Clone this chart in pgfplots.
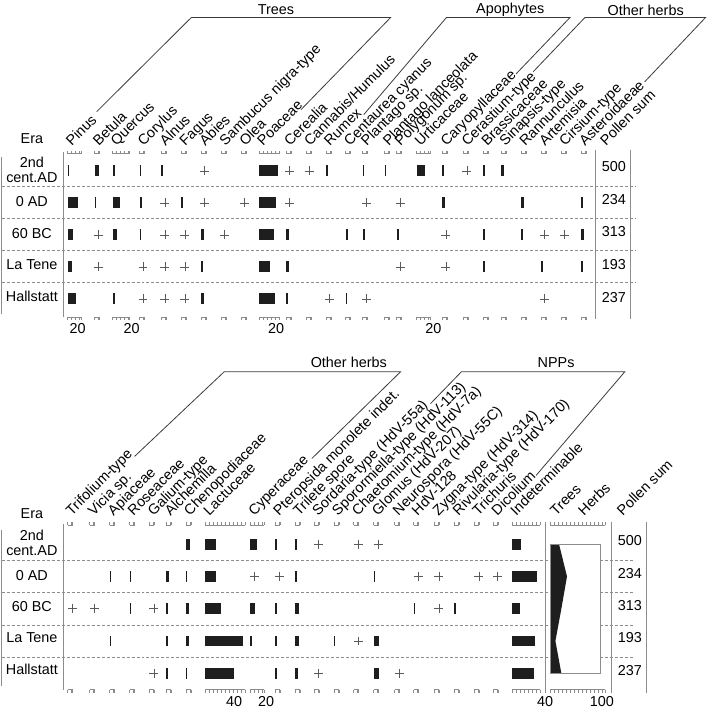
\documentclass[border=0pt]{standalone}
\usepackage{fontspec}
\setmainfont{Liberation Sans}
\usepackage{pgfplots}
\usepackage{pgfplotstable}
\pgfplotsset{compat=1.18}

\definecolor{rulegray}{HTML}{8C8C8C}
\definecolor{bargray}{HTML}{1E1E1E}
\definecolor{plusgray}{HTML}{5A5A5A}
\definecolor{headgray}{HTML}{3A3A3A}

\newcommand{\lbl}{\fontsize{14.5}{17}\selectfont}
\def\pxp{0.8}% px per percent, same on every taxon scale

% rows: 1 = 2nd cent.AD, 2 = 0 AD, 3 = 60 BC, 4 = La Tene, 5 = Hallstatt
% c = left edge of the taxon column (px), v = percentage
\pgfplotstableread{
c r v
68 1 2
68 2 12.5
68 3 6
68 4 5
68 5 10
95 1 6
95 2 2
113 1 3
113 2 9
113 3 5
113 5 3
140 1 2
140 2 2.5
140 3 2
162 1 2
182 2 2
202 3 4
202 4 2
202 5 4
260 1 24
260 2 21
260 3 19
260 4 14
260 5 20
287 3 4
287 4 4
287 5 3
327 1 2.5
347 3 3
347 5 2
364 1 2
364 3 3
386 1 2
398 3 2.5
418 1 10
444 1 2
444 2 3
485 1 2
485 3 2.5
485 4 2.5
503 1 3
523 2 4
523 3 2.5
543 4 2
583 2 2
583 3 4
583 4 3
}\topbars

% taxa present below 1 % (drawn as +)
\pgfplotstableread{
c r
95 3
95 4
140 4
140 5
162 2
162 3
162 4
162 5
182 3
182 4
182 5
202 1
202 2
222 3
242 2
287 1
287 2
307 1
327 5
364 2
364 5
398 2
398 4
444 3
444 4
465 1
543 3
543 5
563 3
}\topplus

\pgfplotstableread{
c r v
110 2 2
110 4 2
130 2 2
130 3 2
167 2 3
167 3 2
167 4 2
167 5 2
186.5 1 5
186.5 2 2
186.5 3 4
186.5 4 4
186.5 5 2
206 1 14
206 2 14
206 3 20
206 4 47
206 5 36
251 1 9
251 3 6
251 4 2
276 1 2
276 3 3
276 4 2
276 5 2
296 1 2
296 2 2
296 3 5
296 4 5
296 5 4
335 4 2
375 2 2
375 4 7
375 5 7
415 3 2
456 3 2
514 1 11
514 2 31
514 3 10
514 4 29
514 5 27
}\botbars

\pgfplotstableread{
c r
68 3
90 3
150 3
150 5
251 2
276 2
315 1
315 5
355 1
355 4
375 1
396 5
415 2
436 2
436 3
476 2
495 2
}\botplus

% trees share of the pollen sum (%), herbs = rest
\pgfplotstableread{
t r
0 1
17.6 1
33.3 2
22.2 3
10.5 4
22.2 5
0 5
}\treeherb

\begin{document}
\begin{tikzpicture}
\begin{axis}[
  x=1bp, y=1bp, y dir=reverse, scale only axis,
  xmin=0, xmax=710, ymin=0, ymax=709,
  hide axis, clip=false,
]
\pgfplotsextra{
  \path (axis cs:0,0) rectangle (axis cs:710,709);
  % row separators
  \foreach \yy in {184.5,216.7,249,281.2}
    \draw[rulegray, line width=0.7bp, dash pattern=on 3bp off 2bp] (axis cs:2,\yy) -- (axis cs:638,\yy);
  \foreach \yy in {560.5,592.8,625,657.3}
    \draw[rulegray, line width=0.7bp, dash pattern=on 3bp off 2bp] (axis cs:2,\yy) -- (axis cs:635,\yy);
  % trees/herbs box
  \fill[white] (axis cs:552,544) rectangle (axis cs:603,673.5);
}

\addplot[draw=none, mark=none, forget plot,
  error bars/.cd, x dir=plus, x explicit, error mark=none,
  error bar style={draw=bargray, line width=11bp, line cap=butt}]
  table[x=c, y expr=169.5+(\thisrow{r}-1)*32.1, x error expr=\thisrow{v}*\pxp] {\topbars};
\addplot[only marks, mark=+, mark size=4.5bp, color=plusgray, mark options={line width=0.6bp}]
  table[x expr=\thisrow{c}+3.5, y expr=169.5+(\thisrow{r}-1)*32.1] {\topplus};

\addplot[draw=none, mark=none, forget plot,
  error bars/.cd, x dir=plus, x explicit, error mark=none,
  error bar style={draw=bargray, line width=11bp, line cap=butt}]
  table[x=c, y expr=544+(\thisrow{r}-1)*32.4, x error expr=\thisrow{v}*\pxp] {\botbars};
\addplot[only marks, mark=+, mark size=4.5bp, color=plusgray, mark options={line width=0.6bp}]
  table[x expr=\thisrow{c}+4.5, y expr=544+(\thisrow{r}-1)*32.4] {\botplus};

\addplot[fill=bargray, draw=none]
  table[x expr=552+0.51*\thisrow{t}, y expr=544+(\thisrow{r}-1)*32.4] {\treeherb} -- cycle;

\pgfplotsextra{
  \draw[rulegray, line width=0.9bp] (axis cs:552,544) rectangle (axis cs:603,673.5);
  % vertical rules
  \draw[rulegray, line width=1bp] (axis cs:2,155) -- (axis cs:2,313);
  \draw[rulegray, line width=1bp] (axis cs:64,150) -- (axis cs:64,316);
  \draw[rulegray, line width=1bp] (axis cs:598,148) -- (axis cs:598,318);
  \draw[rulegray, line width=1bp] (axis cs:633,148) -- (axis cs:633,318);
  \draw[rulegray, line width=1bp] (axis cs:2,530) -- (axis cs:2,686);
  \draw[rulegray, line width=1bp] (axis cs:64,524) -- (axis cs:64,690);
  \draw[rulegray, line width=1bp] (axis cs:547,522) -- (axis cs:547,693);
  \draw[rulegray, line width=1bp] (axis cs:614,522) -- (axis cs:614,693);
  \draw[rulegray, line width=1bp] (axis cs:649,522) -- (axis cs:649,693);
  % taxon scales, top and bottom of each panel
  \foreach \xa/\w in {68/14,95/5,113/17,140/5,162/5,182/5,202/5,222/5,242/5,260/20,287/5,307/5,327/5,347/5,364/5,386/5,398/5,418/14,444/5,465/5,485/5,503/5,523/5,543/5,563/5,583/5}{
    \draw[rulegray, line width=0.6bp] (axis cs:\xa,152) -- (axis cs:\xa+\w,152);
    \draw[rulegray, line width=0.6bp] (axis cs:\xa,316) -- (axis cs:\xa+\w,316);
    \foreach \k in {0,4,...,\w}{
      \draw[rulegray, line width=0.6bp] (axis cs:\xa+\k,152) -- (axis cs:\xa+\k,149);
      \draw[rulegray, line width=0.6bp] (axis cs:\xa+\k,316) -- (axis cs:\xa+\k,319);}
    \draw[rulegray, line width=0.6bp] (axis cs:\xa+\w,152) -- (axis cs:\xa+\w,149);
    \draw[rulegray, line width=0.6bp] (axis cs:\xa+\w,316) -- (axis cs:\xa+\w,319);
  }
  \foreach \xa/\w in {68/5,90/5,110/5,130/5,150/5,167/5,186.5/5,206/40,251/14,276/5,296/5,315/5,335/5,355/5,375/5,396/5,415/5,436/5,456/5,476/5,495/5,514/28,552/55}{
    \draw[rulegray, line width=0.6bp] (axis cs:\xa,525) -- (axis cs:\xa+\w,525);
    \draw[rulegray, line width=0.6bp] (axis cs:\xa,690) -- (axis cs:\xa+\w,690);
    \foreach \k in {0,4,...,\w}{
      \draw[rulegray, line width=0.6bp] (axis cs:\xa+\k,525) -- (axis cs:\xa+\k,522);
      \draw[rulegray, line width=0.6bp] (axis cs:\xa+\k,690) -- (axis cs:\xa+\k,693);}
    \draw[rulegray, line width=0.6bp] (axis cs:\xa+\w,525) -- (axis cs:\xa+\w,522);
    \draw[rulegray, line width=0.6bp] (axis cs:\xa+\w,690) -- (axis cs:\xa+\w,693);
  }
  % group brackets
  \draw[headgray, line width=0.8bp] (axis cs:97,110) -- (axis cs:192,15.5) -- (axis cs:392,15.5) -- (axis cs:302,108);
  \draw[headgray, line width=0.8bp] (axis cs:365,113) -- (axis cs:448,15.5) -- (axis cs:572,15.5) -- (axis cs:518,72);
  \draw[headgray, line width=0.8bp] (axis cs:535,70) -- (axis cs:587,15.5) -- (axis cs:708,15.5) -- (axis cs:647,80);
  \draw[headgray, line width=0.8bp] (axis cs:135,456) -- (axis cs:225,371) -- (axis cs:402,371) -- (axis cs:313,458);
  \draw[headgray, line width=0.8bp] (axis cs:432,403) -- (axis cs:463,371) -- (axis cs:627,371) -- (axis cs:538,475);
  \node[font=\lbl] at (axis cs:277,8) {Trees};
  \node[font=\lbl] at (axis cs:512,8) {Apophytes};
  \node[font=\lbl] at (axis cs:648,8) {Other herbs};
  \node[font=\lbl] at (axis cs:350,362) {Other herbs};
  \node[font=\lbl] at (axis cs:558,362) {NPPs};
  % taxon names
  \foreach \xa/\lab in {68/Pinus,95/Betula,113/Quercus,140/Corylus,162/Alnus,182/Fagus,202/Abies,222/Sambucus nigra-type,242/Olea,260/Poaceae,287/Cerealia,307/{Cannabis/Humulus},327/Rumex,347/Centaurea cyanus,364/Plantago sp.,386/Plantago lanceolata,398/Polygonum sp.,418/Urticaceae,444/Caryopyllaceae,465/Cerastium-type,485/Brassicaceae,503/Sinapsis-type,523/Rannunculus,543/Artemisia,563/Cirsium-type,583/Asteroidaeae,604/Pollen sum}
    \node[font=\lbl, rotate=45, anchor=base west, inner sep=0pt] at (axis cs:\xa+4,145) {\lab};
  \foreach \xa/\lab in {68/Trifolium-type,90/Vicia sp.,110/Apiaceae,130/Roseaceae,150/Galium-type,167/Alchemilla,186.5/Chenopodiaceae,206/Lactuceae,251/Cyperaceae,276/Pteropsida monolete indet.,296/Trilete spore,315/Sordaria-type (HdV-55a),335/Sporormiella-type (HdV-113),355/Chaetomium-type (HdV-7a),375/Glomus (HdV-207),396/Neurospora (HdV-55C),415/HdV-128,436/Zygna-type (HdV-314),456/Rivularia-type (HdV-170),476/Trichuris,495/Dicolium,514/Indeterminable,554/Trees,582/Herbs,621/Pollen sum}
    \node[font=\lbl, rotate=45, anchor=base west, inner sep=0pt] at (axis cs:\xa+4,516) {\lab};
  % era column
  \node[font=\lbl] at (axis cs:32,137) {Era};
  \node[font=\lbl, align=center] at (axis cs:32,168) {2nd\\[-2pt]cent.AD};
  \node[font=\lbl] at (axis cs:32,200) {0 AD};
  \node[font=\lbl] at (axis cs:32,232) {60 BC};
  \node[font=\lbl] at (axis cs:32,263) {La Tene};
  \node[font=\lbl] at (axis cs:32,295) {Hallstatt};
  \node[font=\lbl] at (axis cs:32,513) {Era};
  \node[font=\lbl, align=center] at (axis cs:32,543) {2nd\\[-2pt]cent.AD};
  \node[font=\lbl] at (axis cs:32,575) {0 AD};
  \node[font=\lbl] at (axis cs:32,607) {60 BC};
  \node[font=\lbl] at (axis cs:32,638) {La Tene};
  \node[font=\lbl] at (axis cs:32,670) {Hallstatt};
  % pollen sums
  \foreach \yy/\n in {165/500,198/234,230/313,263/193,297/237}
    \node[font=\lbl] at (axis cs:616,\yy) {\n};
  \foreach \yy/\n in {540/500,573/234,606/313,638/193,671/237}
    \node[font=\lbl] at (axis cs:632,\yy) {\n};
  % scale numbers
  \foreach \xx/\n in {78/20,132/20,277/20,435/20}
    \node[font=\lbl] at (axis cs:\xx,328) {\n};
  \foreach \xx/\n in {235/40,267/20,547/40,604/100}
    \node[font=\lbl] at (axis cs:\xx,702) {\n};
}
\end{axis}
\end{tikzpicture}
\end{document}
